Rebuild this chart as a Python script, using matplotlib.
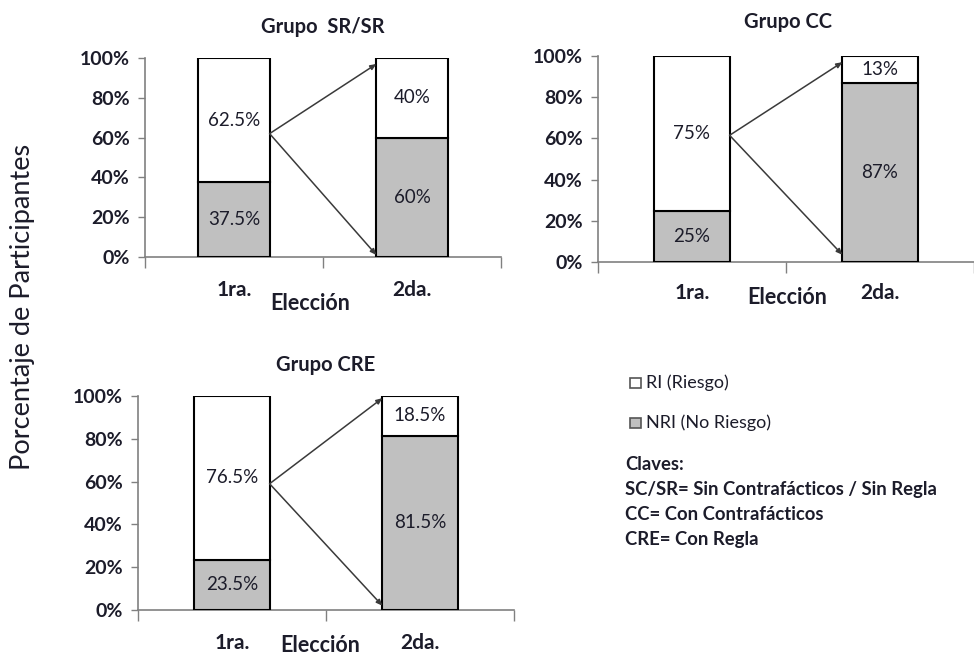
import matplotlib
matplotlib.use("Agg")
import matplotlib.pyplot as plt
import matplotlib.transforms as mtransforms
from matplotlib.patches import Rectangle
import numpy as np

plt.rcParams['font.family'] = ['Lato', 'DejaVu Sans']

# data
elecciones = ["1ra.", "2da."]
grupos = ["Grupo  SR/SR", "Grupo CC", "Grupo CRE"]
nri_sr = [37.5, 60]
ri_sr = [62.5, 40]
nri_cc = [25, 87]
ri_cc = [75, 13]
nri_cre = [23.5, 81.5]
ri_cre = [76.5, 18.5]
# arrow start (bar 1) and arrow end heights (bar 2), in %
flechas_sr = [62, 97, 1]
flechas_cc = [61.5, 97, 3.5]
flechas_cre = [59, 99, 2]

text_col = "#1c1c2a"
gray = "#c0c0c0"

fig = plt.figure(figsize=(9.74, 6.55), dpi=100)

# (left, right, bottom, top) in pixels
boxes = [(145, 501, 257, 58), (598, 974, 262, 56), (138, 514, 610, 396)]
cat_px = [178, 190, 188]
title_y = [27, 22, 365]
tick_y = [290, 293, 643]
elec_xy = [(310, 303), (787, 298), (320, 645)]

datos = [(nri_sr, ri_sr, flechas_sr), (nri_cc, ri_cc, flechas_cc), (nri_cre, ri_cre, flechas_cre)]

W, H = 974, 655
for i, (nri, ri, fl) in enumerate(datos):
    l, r, b, t = boxes[i]
    ax = fig.add_axes([l / W, 1 - b / H, (r - l) / W, (b - t) / H])
    x = np.arange(len(elecciones))
    ax.bar(x, nri, 0.4, color=gray, edgecolor="black", linewidth=1.5, zorder=3)
    ax.bar(x, ri, 0.4, bottom=nri, color="white", edgecolor="black", linewidth=1.5, zorder=3)
    for xi, a, c in zip(x, nri, ri):
        ax.text(xi, a / 2, f"{a:g}%", ha="center", va="center", fontsize=13.5, color=text_col, zorder=4)
        ax.text(xi, a + c / 2, f"{c:g}%", ha="center", va="center", fontsize=13.5, color=text_col, zorder=4)
    xmax = -0.5 + (r - l) / cat_px[i]
    ax.set_xlim(-0.5, xmax)
    ax.set_ylim(0, 100)
    ax.set_yticks([0, 20, 40, 60, 80, 100])
    ax.set_yticklabels([f"{v}%" for v in [0, 20, 40, 60, 80, 100]], fontsize=14, fontweight="bold", color=text_col)
    ax.set_xticks([-0.5, 0.5, 1.5])
    ax.set_xticklabels([])
    ax.tick_params(axis="x", length=8, width=1, color="#808080", direction="out")
    ax.tick_params(axis="y", length=5, width=1, color="#808080", direction="out", pad=6)
    for s in ["top", "right"]:
        ax.spines[s].set_visible(False)
    for s in ["left", "bottom"]:
        ax.spines[s].set_color("#808080")
        ax.spines[s].set_linewidth(1.2)
    ax.patch.set_visible(False)

    trans = mtransforms.blended_transform_factory(ax.transData, fig.transFigure)
    for xi, lab in zip(x, elecciones):
        ax.text(xi, 1 - tick_y[i] / H, lab, transform=trans, ha="center", va="center",
                fontsize=15, fontweight="bold", color=text_col)
    fig.text(elec_xy[i][0] / W, 1 - elec_xy[i][1] / H, "Elección", ha="center", va="center",
             fontsize=15.5, fontweight="bold", color=text_col)
    fig.text((l + cat_px[i]) / W, 1 - title_y[i] / H, grupos[i], ha="center", va="center",
             fontsize=14.5, fontweight="bold", color=text_col)

    # arrows from first bar to second bar
    x0 = 0 + 0.2
    x1 = 1 - 0.2
    for yend in fl[1:]:
        ax.annotate("", xy=(x1, yend), xytext=(x0, fl[0]),
                    arrowprops=dict(arrowstyle="-|>,head_length=0.35,head_width=0.15",
                                    color="#3a3a3a", lw=1.1, shrinkA=0, shrinkB=0), zorder=5)

fig.text(23 / W, 1 - 307 / H, "Porcentaje de Participantes", rotation=90, ha="center", va="center",
         fontsize=19.5, color=text_col)

# legend
for yy, fc, lab in [(383, "white", "RI (Riesgo)"), (423, gray, "NRI (No Riesgo)")]:
    fig.patches.append(Rectangle((630 / W, 1 - (yy + 5) / H), 11 / W, 10 / H, transform=fig.transFigure,
                                 facecolor=fc, edgecolor="#555555", linewidth=1.2))
    fig.text(646 / W, 1 - yy / H, lab, ha="left", va="center", fontsize=13, color=text_col)

claves = ["Claves:", "SC/SR= Sin Contrafácticos / Sin Regla", "CC= Con Contrafácticos", "CRE= Con Regla"]
for k, line in enumerate(claves):
    fig.text(625 / W, 1 - (465 + 24.7 * k) / H, line, ha="left", va="center", fontsize=13.3,
             fontweight="bold", color=text_col)

fig.savefig("out.png", dpi=100)
